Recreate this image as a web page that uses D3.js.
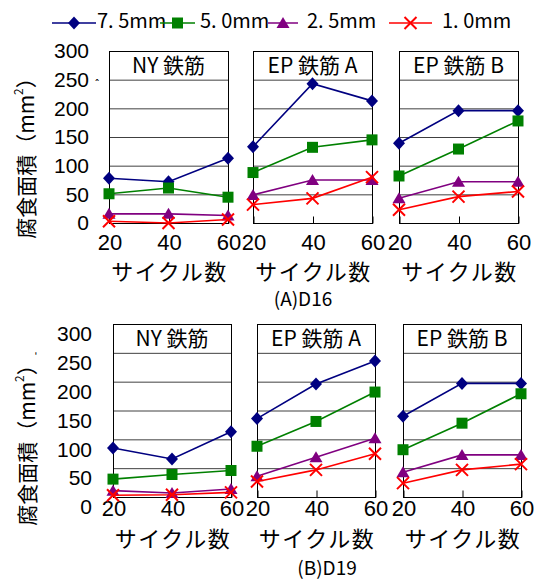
<!DOCTYPE html>
<html>
<head>
<meta charset="utf-8">
<script src="https://cdn.jsdelivr.net/npm/d3@7"></script>
<style>
  html, body { margin: 0; padding: 0; background: #fff; }
  svg { display: block; font-family: "Noto Sans CJK JP", "Noto Sans", sans-serif; }
</style>
</head>
<body>
<svg id="chart" width="536" height="584"></svg>
<script>
"use strict";

// cycles on the x axis, corrosion area (mm2) on the y axis
const cycles = [20, 40, 60];
const yTicks = [0, 50, 100, 150, 200, 250, 300];
const seriesLabels = ["7. 5mm", "5. 0mm", "2. 5mm", "1. 0mm"];
const seriesColors = ["#000080", "#008000", "#800080", "#ff0000"];
const seriesMarkers = ["diamond", "square", "triangle", "cross"];
const panelTitles = ["NY 鉄筋", "EP 鉄筋 A", "EP 鉄筋 B"];
const rowCaptions = ["(A)D16", "(B)D19"];

// one row per series: 7.5mm, 5.0mm, 2.5mm, 1.0mm
const d16NY = [[78, 72, 113], [51, 61, 45], [16, 16, 13], [3, 0, 6]];
const d16EPA = [[133, 243, 213], [88, 132, 145], [49, 75, 75], [32, 43, 80]];
const d16EPB = [[139, 196, 196], [82, 129, 178], [43, 72, 72], [23, 46, 55]];
const d19NY = [[85, 66, 113], [31, 39, 46], [11, 7, 14], [3, 4, 8]];
const d19EPA = [[136, 196, 236], [88, 131, 182], [36, 69, 102], [27, 47, 75]];
const d19EPB = [[140, 197, 197], [82, 128, 179], [43, 73, 73], [24, 47, 57]];

const rows = [
  {
    panels: [d16NY, d16EPA, d16EPB],
    top: 51, bottom: 223,
    lefts: [109, 253, 399], width: 119,
    yLabelShift: 0, xPad: 11, xTitleGap: 47,
    yTitle: { x: 25, y: 153 },
    caption: { x: 303, y: 297 },
  },
  {
    panels: [d19NY, d19EPA, d19EPB],
    top: 324, bottom: 497,
    lefts: [113, 257, 403], width: 118,
    yLabelShift: 10, xPad: 3, xTitleGap: 40,
    yTitle: { x: 26, y: 440 },
    caption: { x: 327, y: 566 },
  },
];

const svg = d3.select("#chart");

function markerPath(kind) {
  if (kind === "diamond") return "M0,-6.5L6,0L0,6.5L-6,0Z";
  if (kind === "square") return "M-5.5,-5.5H5.5V5.5H-5.5Z";
  if (kind === "triangle") return "M0,-6L6.5,5L-6.5,5Z";
  return "M-6,-6L6,6M-6,6L6,-6";
}

function drawMarker(g, kind, color, x, y) {
  const p = g.append("path")
    .attr("d", markerPath(kind))
    .attr("transform", `translate(${x},${y})`);
  if (kind === "cross") p.attr("fill", "none").attr("stroke", color).attr("stroke-width", 2);
  else p.attr("fill", color);
}

// legend
const legendItems = [
  { x1: 52, x2: 96, tx: 97 },
  { x1: 160, x2: 195, tx: 200 },
  { x1: 268, x2: 298, tx: 307 },
  { x1: 389, x2: 432, tx: 442 },
];
const legend = svg.append("g").attr("class", "legend");
legendItems.forEach((it, i) => {
  legend.append("line")
    .attr("x1", it.x1).attr("x2", it.x2).attr("y1", 23).attr("y2", 23)
    .attr("stroke", seriesColors[i]).attr("stroke-width", 1.5);
  drawMarker(legend, seriesMarkers[i], seriesColors[i], (it.x1 + it.x2) / 2, 23);
  legend.append("text")
    .attr("x", it.tx).attr("y", 28)
    .attr("font-size", 20)
    .text(seriesLabels[i]);
});

rows.forEach((row, r) => {
  const rowG = svg.append("g").attr("class", "row");

  const y = d3.scaleLinear().domain([0, 300]).range([row.bottom, row.top]);

  row.panels.forEach((data, p) => {
    const x0 = row.lefts[p];
    const x = d3.scaleLinear().domain([20, 60]).range([x0, x0 + row.width]);
    const g = rowG.append("g").attr("class", "panel");

    // grid
    g.append("g").selectAll("line")
      .data(yTicks.filter((t) => t > 0 && t < 300))
      .join("line")
      .attr("x1", x0).attr("x2", x0 + row.width)
      .attr("y1", (d) => y(d) + 0.5).attr("y2", (d) => y(d) + 0.5)
      .attr("stroke", "#404040").attr("stroke-width", 1);

    g.append("rect")
      .attr("x", x0 + 0.5).attr("y", row.top + 0.5)
      .attr("width", row.width).attr("height", row.bottom - row.top)
      .attr("fill", "none").attr("stroke", "#000").attr("stroke-width", 1);

    g.append("text")
      .attr("x", x0 + row.width / 2).attr("y", (y(300) + y(250)) / 2 - 1)
      .attr("text-anchor", "middle").attr("dominant-baseline", "central")
      .attr("font-size", 21)
      .text(panelTitles[p]);

    // x axis
    const xAxis = d3.axisBottom(x).tickValues(cycles).tickSize(-7).tickPadding(row.xPad);
    const xg = g.append("g")
      .attr("transform", `translate(0.5,${row.bottom + 0.5})`)
      .call(xAxis);
    xg.select(".domain").remove();
    xg.selectAll("line").attr("stroke", "#000");
    xg.selectAll("text")
      .attr("font-family", null).attr("font-size", 22).attr("fill", "#000");

    g.append("text")
      .attr("x", x0 + row.width / 2 + 1).attr("y", row.bottom + row.xTitleGap)
      .attr("text-anchor", "middle").attr("dominant-baseline", "central")
      .attr("font-size", 22).attr("letter-spacing", 1.5)
      .text("サイクル数");

    // series
    const line = d3.line().x((d, i) => x(cycles[i])).y((d) => y(d));
    data.forEach((vals, s) => {
      g.append("path")
        .attr("d", line(vals))
        .attr("fill", "none")
        .attr("stroke", seriesColors[s]).attr("stroke-width", 1.6);
      vals.forEach((v, i) => drawMarker(g, seriesMarkers[s], seriesColors[s], x(cycles[i]), y(v)));
    });
  });

  // y axis labels
  const yAxis = d3.axisLeft(y).tickValues(yTicks).tickSize(0).tickPadding(row.lefts[0] - (r === 0 ? 89 : 92));
  const yg = rowG.append("g")
    .attr("transform", `translate(${row.lefts[0]},${row.yLabelShift})`)
    .call(yAxis);
  yg.select(".domain").remove();
  yg.selectAll("text")
    .attr("font-family", null).attr("font-size", 21).attr("fill", "#000");

  const title = rowG.append("text")
    .attr("transform", `translate(${row.yTitle.x},${row.yTitle.y}) rotate(-90)`)
    .attr("text-anchor", "middle").attr("dominant-baseline", "central")
    .attr("font-size", 21);
  title.append("tspan").text("腐食面積（mm");
  title.append("tspan").attr("font-size", 12).attr("dy", -8).text("2");
  title.append("tspan").attr("dy", 8).text("）");

  rowG.append("text")
    .attr("x", row.caption.x).attr("y", row.caption.y)
    .attr("text-anchor", "middle").attr("dominant-baseline", "central")
    .attr("font-size", 19)
    .text(rowCaptions[r]);
});

// small stray marks seen next to the axis labels
svg.append("text").attr("x", 97).attr("y", 88).attr("font-size", 10)
  .attr("text-anchor", "middle").text("ˆ");
svg.append("text").attr("x", 36).attr("y", 360).attr("font-size", 10)
  .attr("text-anchor", "middle").text("'");
</script>
</body>
</html>
